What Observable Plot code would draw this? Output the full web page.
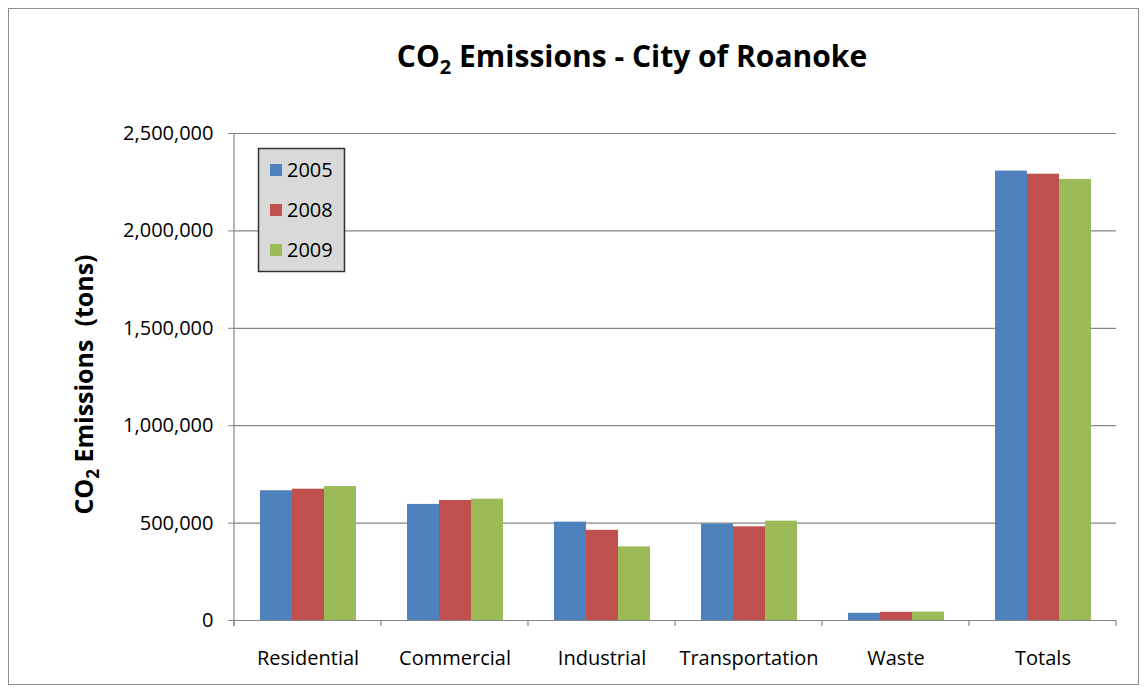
<!DOCTYPE html>
<html>
<head>
<meta charset="utf-8">
<script src="https://cdn.jsdelivr.net/npm/d3@7"></script>
<script src="https://cdn.jsdelivr.net/npm/@observablehq/plot@0.6"></script>
<style>
  html, body { margin: 0; padding: 0; background: #fff; }
  svg { display: block; }
</style>
</head>
<body>
<div id="chart"></div>
<script>
// ---- data ----
const categories = ["Residential", "Commercial", "Industrial", "Transportation", "Waste", "Totals"];
const years = ["2005", "2008", "2009"];
const v2005 = [666000, 596000, 505000, 495000, 37000, 2307000];
const v2008 = [674000, 616000, 463000, 481000, 42000, 2291000];
const v2009 = [688000, 623000, 378000, 510000, 43000, 2264000];
const yTicks = [0, 500000, 1000000, 1500000, 2000000, 2500000];
const seriesColors = ["#4F81BD", "#C0504D", "#9BBB59"];
const titleMain = "CO";
const titleSub = "2";
const titleRest = " Emissions - City of Roanoke";
const yLabelMain = "CO";
const yLabelSub = "2";
const yLabelRest = " Emissions\u00A0\u00A0(tons)";

const seriesValues = [v2005, v2008, v2009];
const data = [];
categories.forEach((c, i) => {
  years.forEach((y, j) => data.push({category: c, year: y, value: seriesValues[j][i]}));
});

const gray = "#868686";
const font = "'Open Sans', sans-serif";

const plot = Plot.plot({
  width: 1145,
  height: 690,
  marginLeft: 231,
  marginRight: 27,
  marginTop: 133,
  marginBottom: 70,
  style: {fontFamily: font, fontSize: "20px", color: "#000", background: "transparent", overflow: "visible"},
  fx: {domain: categories, padding: 0, label: null},
  x: {domain: years, paddingInner: 0, paddingOuter: 0.75, axis: null},
  y: {domain: [0, 2500000], label: null},
  color: {domain: years, range: seriesColors},
  marks: [
    Plot.gridY(yTicks, {stroke: gray, strokeOpacity: 1, strokeWidth: 1.2}),
    Plot.axisY(yTicks, {tickSize: 6, tickPadding: 15, tickFormat: d3.format(","), label: null, stroke: gray, facetAnchor: "left", fontSize: 20}),
    Plot.axisFx({anchor: "bottom", tickSize: 0, tickPadding: 30, label: null, fontSize: 20}),
    Plot.barY(data, {fx: "category", x: "year", y: "value", fill: "year"}),
    Plot.ruleY([0], {stroke: gray, strokeWidth: 1.2})
  ]
});

document.getElementById("chart").appendChild(plot);

const svg = d3.select(plot);
const fx = plot.scale("fx");
const yS = plot.scale("y");
const y0 = yS.apply(0);
const yTop = yS.apply(2500000);

// outer chart border
svg.insert("rect", ":first-child")
  .attr("x", 8.5).attr("y", 8.5).attr("width", 1130).attr("height", 676)
  .attr("fill", "#fff").attr("stroke", "#8c8c8c").attr("stroke-width", 1);

// y axis line
const xLeft = fx.apply(categories[0]);
const xRight = fx.apply(categories[categories.length - 1]) + fx.bandwidth;
svg.append("line")
  .attr("x1", xLeft).attr("x2", xLeft).attr("y1", yTop).attr("y2", y0 + 6)
  .attr("stroke", gray).attr("stroke-width", 1.2);

// category boundary ticks
const bounds = categories.map(c => fx.apply(c)).concat([xRight]);
svg.append("g").selectAll("line").data(bounds).join("line")
  .attr("x1", d => d).attr("x2", d => d).attr("y1", y0).attr("y2", y0 + 6)
  .attr("stroke", gray).attr("stroke-width", 1.2);

// title
const title = svg.append("text")
  .attr("x", 632).attr("y", 67)
  .attr("text-anchor", "middle")
  .attr("font-family", font).attr("font-weight", "bold").attr("font-size", 30)
  .attr("fill", "#000");
title.append("tspan").text(titleMain);
title.append("tspan").attr("font-size", 20).attr("dy", 7).text(titleSub);
title.append("tspan").attr("dy", -7).text(titleRest);

// y label
const yl = svg.append("text")
  .attr("transform", `translate(93, ${(yTop + y0) / 2 + 8}) rotate(-90)`)
  .attr("text-anchor", "middle")
  .attr("font-family", font).attr("font-weight", "bold").attr("font-size", 25)
  .attr("fill", "#000");
yl.append("tspan").text(yLabelMain);
yl.append("tspan").attr("font-size", 17).attr("dy", 6).text(yLabelSub);
yl.append("tspan").attr("dy", -6).text(yLabelRest);

// legend
const lg = svg.append("g");
lg.append("rect")
  .attr("x", 258.5).attr("y", 148.5).attr("width", 86).attr("height", 123)
  .attr("fill", "#d9d9d9").attr("stroke", "#333").attr("stroke-width", 1.5);
const colorScale = plot.scale("color");
years.forEach((yr, i) => {
  const cy = 170 + i * 40;
  lg.append("rect").attr("x", 270).attr("y", cy - 6).attr("width", 12).attr("height", 12)
    .attr("fill", colorScale.apply(yr));
  lg.append("text").attr("x", 287).attr("y", cy).attr("dy", "0.35em")
    .attr("text-anchor", "start")
    .attr("font-family", font).attr("font-size", 20).attr("fill", "#000").text(yr);
});
</script>
</body>
</html>
